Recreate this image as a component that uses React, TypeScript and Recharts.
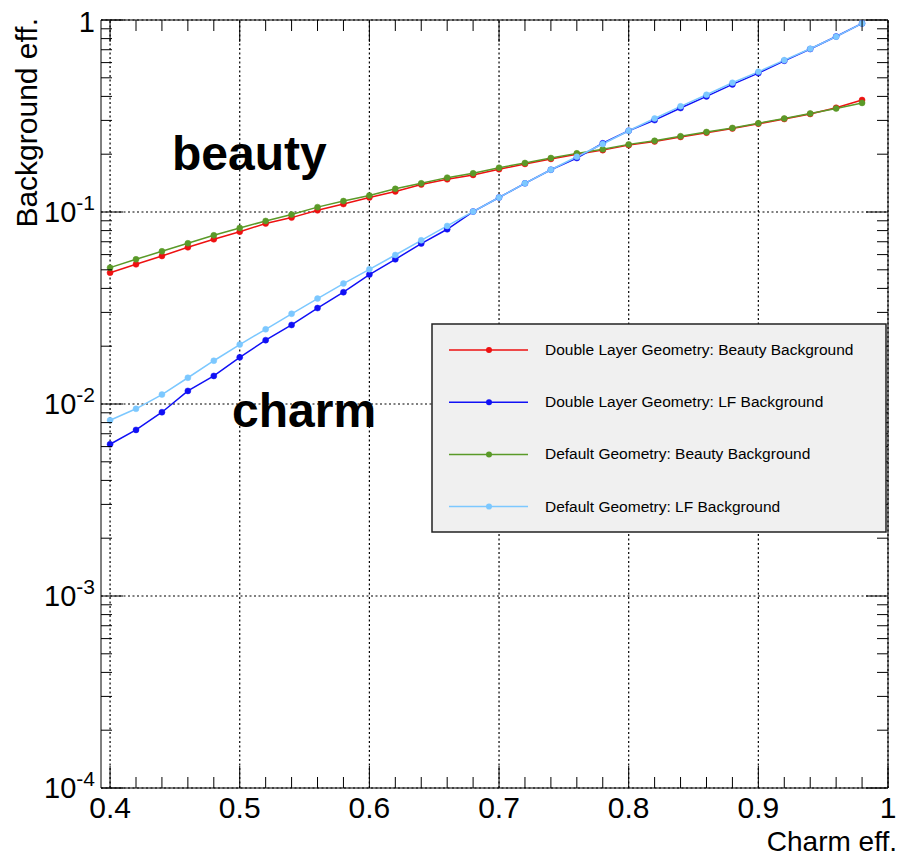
import React from 'react';
import { LineChart, Line, XAxis, YAxis, ReferenceLine } from 'recharts';

// charm efficiency (x) and background efficiencies (y)
const CHARM_EFF = [
  0.40, 0.42, 0.44, 0.46, 0.48, 0.50, 0.52, 0.54, 0.56, 0.58,
  0.60, 0.62, 0.64, 0.66, 0.68, 0.70, 0.72, 0.74, 0.76, 0.78,
  0.80, 0.82, 0.84, 0.86, 0.88, 0.90, 0.92, 0.94, 0.96, 0.98,
];
const DL_BEAUTY = [
  0.0483, 0.0534, 0.059, 0.0655, 0.0721, 0.079, 0.0871, 0.0935, 0.102, 0.110,
  0.119, 0.128, 0.139, 0.148, 0.156, 0.167, 0.178, 0.189, 0.200, 0.210,
  0.223, 0.233, 0.246, 0.259, 0.272, 0.288, 0.305, 0.324, 0.349, 0.383,
];
const DL_LF = [
  0.00617, 0.00733, 0.00906, 0.0117, 0.0140, 0.0175, 0.0215, 0.0258, 0.0316, 0.0382,
  0.0472, 0.0567, 0.0685, 0.0813, 0.1005, 0.119, 0.141, 0.166, 0.191, 0.228,
  0.265, 0.301, 0.348, 0.400, 0.462, 0.529, 0.613, 0.706, 0.82, 0.96,
];
const DEF_BEAUTY = [
  0.0513, 0.0567, 0.0624, 0.0687, 0.0756, 0.0826, 0.0898, 0.097, 0.106, 0.114,
  0.122, 0.132, 0.141, 0.151, 0.159, 0.170, 0.180, 0.191, 0.202, 0.212,
  0.225, 0.235, 0.248, 0.261, 0.274, 0.290, 0.307, 0.326, 0.346, 0.370,
];
const DEF_LF = [
  0.00823, 0.00944, 0.0112, 0.0137, 0.0168, 0.0204, 0.0245, 0.0295, 0.0354, 0.0424,
  0.0503, 0.0597, 0.0712, 0.0846, 0.1005, 0.119, 0.141, 0.166, 0.194, 0.226,
  0.265, 0.307, 0.355, 0.408, 0.471, 0.537, 0.618, 0.708, 0.819, 0.96,
];

const SERIES = [
  { key: 'dlBeauty', name: 'Double Layer Geometry: Beauty Background', color: '#ee1111', values: DL_BEAUTY },
  { key: 'dlLf', name: 'Double Layer Geometry: LF Background', color: '#1010f5', values: DL_LF },
  { key: 'defBeauty', name: 'Default Geometry: Beauty Background', color: '#5a9a28', values: DEF_BEAUTY },
  { key: 'defLf', name: 'Default Geometry: LF Background', color: '#7cc8ff', values: DEF_LF },
];

const X_MAJOR = [0.4, 0.5, 0.6, 0.7, 0.8, 0.9, 1.0];
const X_LABELS = ['0.4', '0.5', '0.6', '0.7', '0.8', '0.9', '1'];
const Y_MAJOR = [1e-4, 1e-3, 1e-2, 1e-1, 1];
const Y_LABELS = [['10', '-4'], ['10', '-3'], ['10', '-2'], ['10', '-1'], ['1', '']];

const X_TICKS: number[] = [];
for (let i = 20; i <= 50; i++) X_TICKS.push(i / 50);
const Y_TICKS: number[] = [];
for (let e = -4; e < 0; e++) for (let k = 1; k < 10; k++) Y_TICKS.push(k * Math.pow(10, e));
Y_TICKS.push(1);

const data = CHARM_EFF.map((x, i) => {
  const row: any = { x };
  SERIES.forEach(s => { row[s.key] = s.values[i]; });
  return row;
});

const FONT = '"Liberation Sans", Arial, Helvetica, sans-serif';

const XTick = (props: any) => {
  const { x, y, payload, side } = props;
  const idx = X_MAJOR.findIndex(m => Math.abs(m - payload.value) < 1e-6);
  const len = idx >= 0 ? 22 : 11;
  if (side === 'top') {
    return <line x1={x} x2={x} y1={y} y2={y + len} stroke="#000" strokeWidth={1} />;
  }
  return (
    <g>
      <line x1={x} x2={x} y1={y} y2={y - len} stroke="#000" strokeWidth={1} />
      {idx >= 0 && (
        <text x={x} y={y + 30} textAnchor="middle" fontSize={30} fontFamily={FONT} fill="#000">
          {X_LABELS[idx]}
        </text>
      )}
    </g>
  );
};

const YTick = (props: any) => {
  const { x, y, payload, side } = props;
  const lv = Math.log10(payload.value);
  const idx = Y_MAJOR.findIndex(m => Math.abs(Math.log10(m) - lv) < 1e-6);
  const len = idx >= 0 ? 22 : 11;
  if (side === 'right') {
    return <line x1={x} x2={x - len} y1={y} y2={y} stroke="#000" strokeWidth={1} />;
  }
  const [base, sup] = idx >= 0 ? Y_LABELS[idx] : ['', ''];
  return (
    <g>
      <line x1={x} x2={x + len} y1={y} y2={y} stroke="#000" strokeWidth={1} />
      {idx >= 0 && (
        <text x={x - 6} y={y + (sup ? 10 : 12)} textAnchor="end" fontFamily={FONT} fill="#000">
          <tspan fontSize={29}>{base}</tspan>
          {sup && <tspan fontSize={21} dy={-12}>{sup}</tspan>}
        </text>
      )}
    </g>
  );
};

export default function App() {
  return (
    <div style={{ position: 'absolute', left: 0, top: 0, width: 901, height: 857, background: '#fff' }}>
      <LineChart width={901} height={857} data={data} margin={{ top: 0, right: 0, bottom: 0, left: 0 }}>
        <XAxis
          xAxisId="b"
          dataKey="x"
          type="number"
          domain={[0.393, 1.0]}
          allowDataOverflow
          ticks={X_TICKS}
          interval={0}
          height={69}
          tickSize={0}
          tickMargin={0}
          tickLine={false}
          axisLine={{ stroke: '#000', strokeWidth: 1 }}
          tick={<XTick side="bottom" />}
        />
        <XAxis
          xAxisId="t"
          orientation="top"
          dataKey="x"
          type="number"
          domain={[0.393, 1.0]}
          allowDataOverflow
          ticks={X_TICKS}
          interval={0}
          height={20}
          tickSize={0}
          tickMargin={0}
          tickLine={false}
          axisLine={{ stroke: '#000', strokeWidth: 1 }}
          tick={<XTick side="top" />}
        />
        <YAxis
          yAxisId="l"
          type="number"
          scale="log"
          domain={[1e-4, 1]}
          allowDataOverflow
          ticks={Y_TICKS}
          interval={0}
          width={101}
          tickSize={0}
          tickMargin={0}
          tickLine={false}
          axisLine={{ stroke: '#000', strokeWidth: 1 }}
          tick={<YTick side="left" />}
        />
        <YAxis
          yAxisId="r"
          orientation="right"
          type="number"
          scale="log"
          domain={[1e-4, 1]}
          allowDataOverflow
          ticks={Y_TICKS}
          interval={0}
          width={13}
          tickSize={0}
          tickMargin={0}
          tickLine={false}
          axisLine={{ stroke: '#000', strokeWidth: 1 }}
          tick={<YTick side="right" />}
        />
        {X_MAJOR.map(v => (
          <ReferenceLine key={'gx' + v} xAxisId="b" yAxisId="l" x={v} stroke="#000" strokeWidth={1.2} strokeDasharray="2 2.5" />
        ))}
        {Y_MAJOR.map(v => (
          <ReferenceLine key={'gy' + v} xAxisId="b" yAxisId="l" y={v} stroke="#000" strokeWidth={1.2} strokeDasharray="2 2.5" />
        ))}
        {SERIES.map(s => (
          <Line
            key={s.key}
            xAxisId="b"
            yAxisId="l"
            dataKey={s.key}
            name={s.name}
            type="linear"
            stroke={s.color}
            strokeWidth={1.5}
            dot={{ r: 3, fill: s.color, stroke: s.color, strokeWidth: 0.5 }}
            activeDot={false}
            isAnimationActive={false}
          />
        ))}
      </LineChart>
      <svg width={901} height={857} style={{ position: 'absolute', left: 0, top: 0, pointerEvents: 'none' }}>
        <text x={172} y={170} fontSize={48} fontWeight="bold" fontFamily={FONT} fill="#000">beauty</text>
        <text x={232} y={427} fontSize={48} fontWeight="bold" fontFamily={FONT} fill="#000">charm</text>
        <text x={37} y={18} transform="rotate(-90 37 18)" textAnchor="end" fontSize={30} fontFamily={FONT} fill="#000">
          Background eff.
        </text>
        <text x={897} y={850.5} textAnchor="end" fontSize={28} fontFamily={FONT} fill="#000">Charm eff.</text>
        <rect x={432} y={324} width={454} height={208} fill="#f0f0f0" stroke="#222" strokeWidth={1.5} />
        {SERIES.map((s, i) => {
          const cy = 350 + i * 52.2;
          return (
            <g key={'lg' + s.key}>
              <line x1={449} x2={528} y1={cy} y2={cy} stroke={s.color} strokeWidth={1.5} />
              <circle cx={489} cy={cy} r={3} fill={s.color} />
              <text x={545} y={cy + 5} fontSize={15.5} fontFamily={FONT} fill="#000">{s.name}</text>
            </g>
          );
        })}
      </svg>
    </div>
  );
}
